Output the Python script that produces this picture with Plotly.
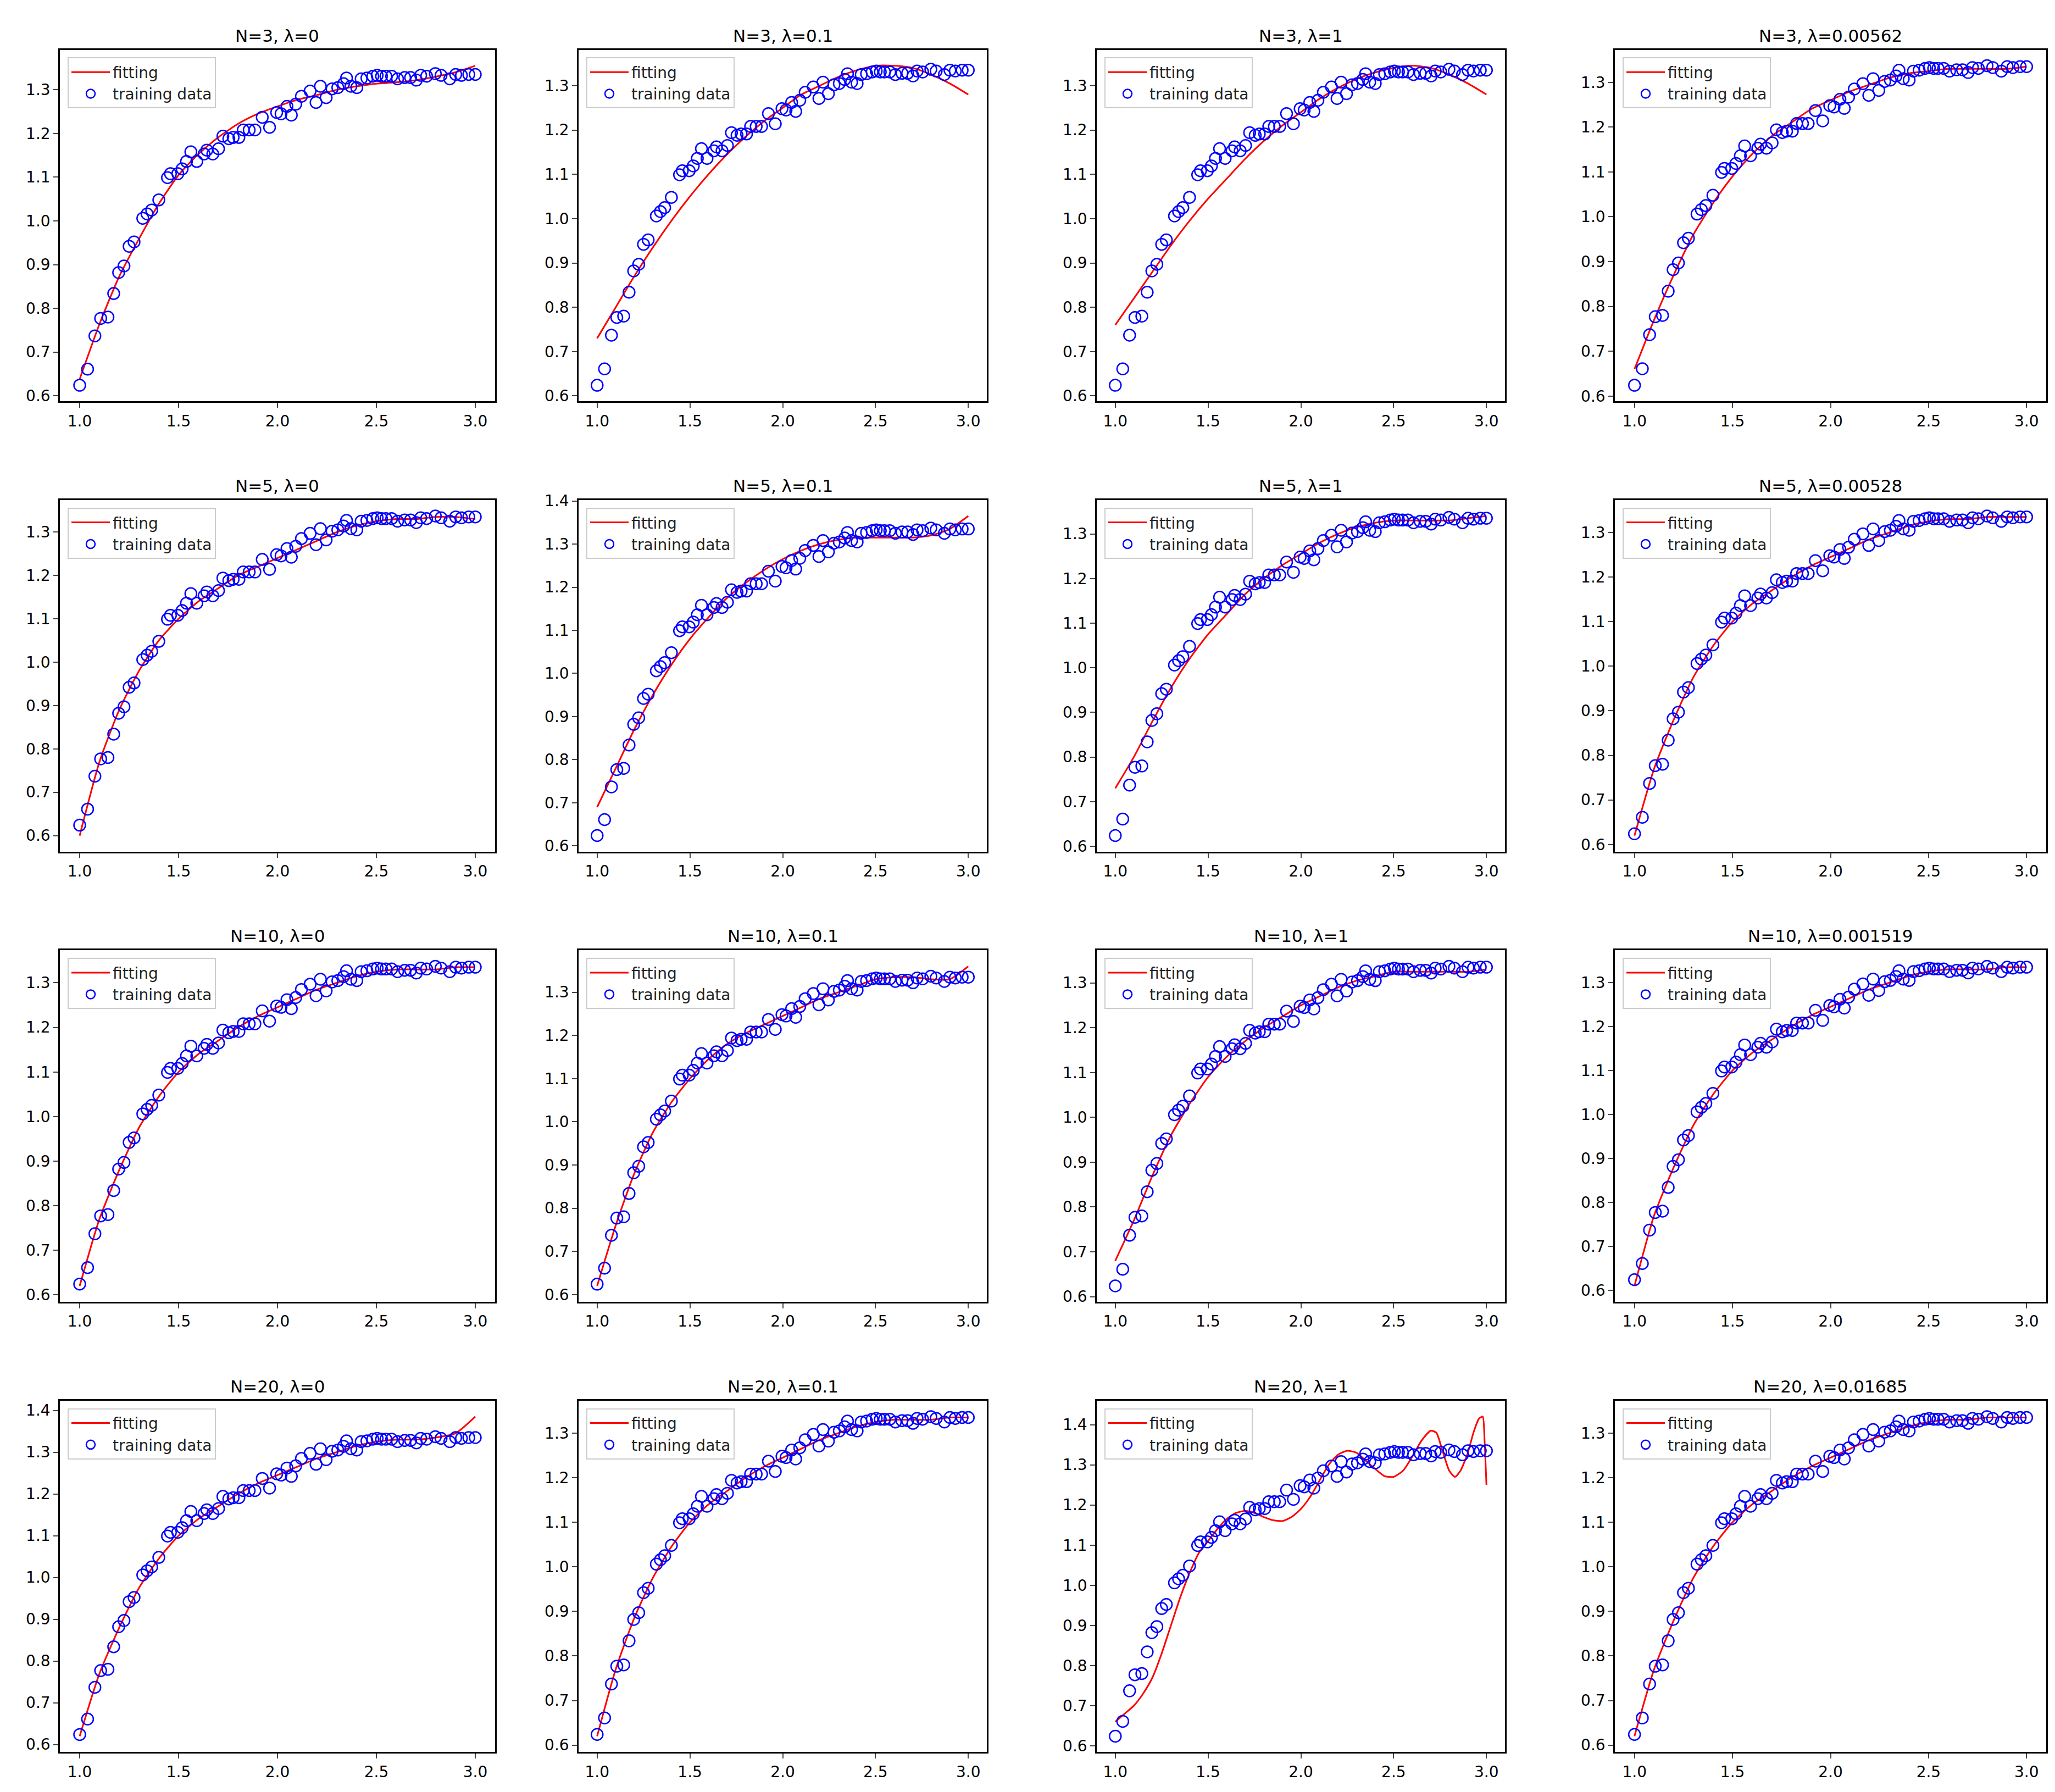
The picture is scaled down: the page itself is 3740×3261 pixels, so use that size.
import plotly.graph_objects as go

W, H = 3740, 3261

# training data (same in every panel)
x_train = [1.0, 1.04, 1.077, 1.106, 1.143, 1.172, 1.197, 1.224, 1.25, 1.275, 1.319, 1.341,
           1.364, 1.4, 1.444, 1.459, 1.496, 1.518, 1.54, 1.562, 1.592, 1.629, 1.643, 1.673,
           1.702, 1.724, 1.754, 1.776, 1.805, 1.827, 1.857, 1.886, 1.923, 1.96, 1.996, 2.018,
           2.048, 2.07, 2.092, 2.121, 2.165, 2.195, 2.217, 2.246, 2.276, 2.305, 2.334, 2.349,
           2.371, 2.401, 2.423, 2.452, 2.482, 2.504, 2.526, 2.548, 2.577, 2.607, 2.643, 2.673,
           2.702, 2.724, 2.754, 2.798, 2.827, 2.871, 2.901, 2.93, 2.967, 3.0]
y_train = [0.624, 0.661, 0.737, 0.777, 0.78, 0.834, 0.882, 0.897, 0.942, 0.952, 1.006, 1.016,
           1.025, 1.048, 1.099, 1.108, 1.108, 1.119, 1.136, 1.158, 1.136, 1.153, 1.162, 1.153,
           1.165, 1.194, 1.188, 1.191, 1.191, 1.208, 1.208, 1.208, 1.237, 1.214, 1.248, 1.245,
           1.262, 1.242, 1.267, 1.285, 1.297, 1.271, 1.308, 1.282, 1.302, 1.305, 1.314, 1.327,
           1.308, 1.305, 1.325, 1.327, 1.331, 1.333, 1.331, 1.331, 1.331, 1.325, 1.328, 1.328,
           1.322, 1.333, 1.331, 1.337, 1.333, 1.325, 1.335, 1.333, 1.335, 1.335]

# fitted curves, sampled every 0.1
x_fit = [1.0, 1.1, 1.2, 1.3, 1.4, 1.5, 1.6, 1.7, 1.8, 1.9, 2.0,
         2.1, 2.2, 2.3, 2.4, 2.5, 2.6, 2.7, 2.8, 2.9, 3.0]
fit_n3_l0 = [0.638, 0.764, 0.873, 0.959, 1.039, 1.105, 1.153, 1.191, 1.222, 1.245, 1.262,
             1.277, 1.288, 1.30, 1.308, 1.314, 1.317, 1.322, 1.330, 1.340, 1.355]
fit_n3_l01 = [0.73, 0.80, 0.87, 0.935, 0.995, 1.05, 1.10, 1.145, 1.185, 1.22, 1.25,
              1.28, 1.30, 1.32, 1.335, 1.345, 1.345, 1.34, 1.325, 1.305, 1.28]
fit_n3_l1 = [0.76, 0.82, 0.88, 0.94, 0.995, 1.045, 1.09, 1.135, 1.175, 1.21, 1.24,
             1.27, 1.295, 1.315, 1.33, 1.34, 1.345, 1.34, 1.325, 1.305, 1.28]
fit_n3_best = [0.66, 0.77, 0.87, 0.96, 1.03, 1.09, 1.14, 1.18, 1.21, 1.24, 1.26,
               1.28, 1.295, 1.31, 1.32, 1.325, 1.33, 1.33, 1.33, 1.33, 1.335]
fit_n5_l0 = [0.60, 0.77, 0.89, 0.98, 1.05, 1.10, 1.14, 1.17, 1.20, 1.22, 1.24,
             1.26, 1.28, 1.30, 1.315, 1.325, 1.33, 1.33, 1.335, 1.335, 1.33]
fit_n5_l01 = [0.69, 0.78, 0.87, 0.95, 1.02, 1.08, 1.13, 1.175, 1.21, 1.24, 1.265,
              1.285, 1.30, 1.31, 1.315, 1.315, 1.315, 1.315, 1.32, 1.335, 1.365]
fit_n5_l1 = [0.73, 0.80, 0.88, 0.955, 1.02, 1.075, 1.12, 1.165, 1.20, 1.23, 1.255,
             1.28, 1.30, 1.315, 1.325, 1.33, 1.33, 1.33, 1.33, 1.335, 1.34]
fit_n5_best = [0.62, 0.77, 0.88, 0.975, 1.045, 1.10, 1.14, 1.17, 1.20, 1.225, 1.245,
               1.265, 1.285, 1.30, 1.315, 1.325, 1.33, 1.33, 1.335, 1.335, 1.335]
fit_n10_l0 = [0.62, 0.77, 0.88, 0.975, 1.045, 1.10, 1.14, 1.17, 1.20, 1.225, 1.245,
              1.265, 1.285, 1.30, 1.315, 1.325, 1.33, 1.33, 1.33, 1.335, 1.335]
fit_n10_l01 = [0.62, 0.76, 0.88, 0.975, 1.045, 1.10, 1.145, 1.18, 1.205, 1.225, 1.245,
               1.265, 1.285, 1.30, 1.315, 1.33, 1.335, 1.335, 1.33, 1.33, 1.36]
fit_n10_l1 = [0.68, 0.77, 0.87, 0.96, 1.03, 1.09, 1.135, 1.17, 1.20, 1.225, 1.25,
              1.27, 1.29, 1.305, 1.315, 1.325, 1.325, 1.325, 1.325, 1.325, 1.33]
fit_n10_best = [0.61, 0.77, 0.88, 0.975, 1.045, 1.10, 1.14, 1.17, 1.20, 1.225, 1.245,
                1.265, 1.285, 1.30, 1.315, 1.325, 1.33, 1.33, 1.33, 1.335, 1.335]
fit_n20_l0 = [0.62, 0.77, 0.88, 0.975, 1.045, 1.10, 1.14, 1.17, 1.20, 1.225, 1.245,
              1.265, 1.285, 1.30, 1.315, 1.325, 1.33, 1.33, 1.335, 1.345, 1.385]
fit_n20_l01 = [0.62, 0.77, 0.885, 0.975, 1.045, 1.10, 1.14, 1.17, 1.20, 1.225, 1.245,
               1.265, 1.285, 1.30, 1.315, 1.325, 1.33, 1.33, 1.33, 1.335, 1.335]
fit_n20_best = [0.62, 0.77, 0.88, 0.975, 1.045, 1.10, 1.14, 1.17, 1.20, 1.225, 1.245,
                1.265, 1.285, 1.30, 1.315, 1.325, 1.33, 1.33, 1.335, 1.335, 1.335]
# the wiggly one needs a finer sampling
x_fit_n20_l1 = [1.0, 1.05, 1.1, 1.15, 1.2, 1.25, 1.3, 1.35, 1.4, 1.45, 1.5, 1.55, 1.6,
                1.65, 1.7, 1.75, 1.8, 1.85, 1.9, 1.95, 2.0, 2.05, 2.1, 2.15, 2.2, 2.25,
                2.3, 2.35, 2.4, 2.45, 2.5, 2.55, 2.6, 2.65, 2.7, 2.73, 2.76, 2.8, 2.83,
                2.86, 2.9, 2.93, 2.96, 2.98, 2.99, 3.0]
fit_n20_l1 = [0.66, 0.68, 0.70, 0.73, 0.77, 0.83, 0.90, 0.97, 1.03, 1.08, 1.11, 1.14,
              1.165, 1.18, 1.185, 1.18, 1.17, 1.162, 1.16, 1.17, 1.19, 1.22, 1.26,
              1.30, 1.325, 1.335, 1.33, 1.31, 1.29, 1.272, 1.27, 1.285, 1.32, 1.36,
              1.385, 1.38, 1.34, 1.285, 1.27, 1.285, 1.33, 1.38, 1.415, 1.42, 1.36, 1.25]

titles = ["N=3, λ=0", "N=3, λ=0.1", "N=3, λ=1", "N=3, λ=0.00562",
          "N=5, λ=0", "N=5, λ=0.1", "N=5, λ=1", "N=5, λ=0.00528",
          "N=10, λ=0", "N=10, λ=0.1", "N=10, λ=1", "N=10, λ=0.001519",
          "N=20, λ=0", "N=20, λ=0.1", "N=20, λ=1", "N=20, λ=0.01685"]
fits = [(x_fit, fit_n3_l0), (x_fit, fit_n3_l01), (x_fit, fit_n3_l1), (x_fit, fit_n3_best),
        (x_fit, fit_n5_l0), (x_fit, fit_n5_l01), (x_fit, fit_n5_l1), (x_fit, fit_n5_best),
        (x_fit, fit_n10_l0), (x_fit, fit_n10_l01), (x_fit, fit_n10_l1), (x_fit, fit_n10_best),
        (x_fit, fit_n20_l0), (x_fit, fit_n20_l01), (x_fit_n20_l1, fit_n20_l1), (x_fit, fit_n20_best)]

# panel boxes in pixels (left, right) / (top, bottom)
cols = [(101, 893), (1045, 1788), (1988, 2731), (2931, 3716)]
rows = [(68, 712), (893, 1537), (1718, 2362), (2543, 3187)]

font = "DejaVu Sans"
fig = go.Figure()
layout = {}
annotations = []
for i, (title, (xf, yf)) in enumerate(zip(titles, fits)):
    r, c = divmod(i, 4)
    k = "" if i == 0 else str(i + 1)
    leg = "legend" if i == 0 else f"legend{i + 1}"
    fig.add_trace(go.Scatter(x=xf, y=yf, mode="lines", name="fitting",
                             line=dict(color="red", width=3, shape="spline", smoothing=0.6),
                             xaxis="x" + k, yaxis="y" + k, legend=leg))
    fig.add_trace(go.Scatter(x=x_train, y=y_train, mode="markers", name="training data",
                             marker=dict(symbol="circle-open", color="blue", size=21,
                                         line=dict(width=2.5)),
                             xaxis="x" + k, yaxis="y" + k, legend=leg))
    x0, x1 = cols[c][0] / W, cols[c][1] / W
    y0, y1 = 1 - rows[r][1] / H, 1 - rows[r][0] / H
    lo = min(min(yf), min(y_train))
    hi = max(max(yf), max(y_train))
    pad = (hi - lo) * 0.05
    ax = dict(showline=True, mirror=True, linecolor="black", linewidth=2.5,
              ticks="outside", ticklen=9, tickwidth=2, showgrid=False, zeroline=False,
              tickfont=dict(family=font, size=28, color="black"), tickformat=".1f")
    layout["xaxis" + k] = dict(ax, domain=[x0, x1], range=[0.9, 3.1], dtick=0.5,
                               tick0=1.0, anchor="y" + k)
    layout["yaxis" + k] = dict(ax, domain=[y0, y1], range=[lo - pad, hi + pad],
                               dtick=0.1, tick0=0.6, anchor="x" + k)
    layout[leg] = dict(x=x0 + 14 / W, y=y1 - 14 / H, xanchor="left", yanchor="top",
                       bgcolor="rgba(255,255,255,0.8)", bordercolor="#cccccc",
                       borderwidth=2, font=dict(family=font, size=28, color="#222"),
                       itemwidth=70, tracegroupgap=0)
    annotations.append(dict(text=title, x=(x0 + x1) / 2, y=y1, xref="paper",
                            yref="paper", xanchor="center", yanchor="bottom",
                            yshift=6, showarrow=False,
                            font=dict(family=font, size=31, color="black")))

fig.update_layout(**layout)
fig.update_layout(width=W, height=H, margin=dict(l=0, r=0, t=0, b=0),
                  paper_bgcolor="white", plot_bgcolor="white",
                  annotations=annotations)
fig.write_html("out.html")
